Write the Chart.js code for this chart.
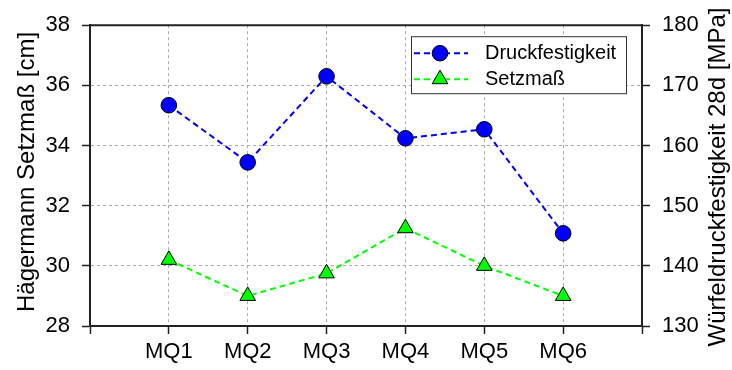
<!DOCTYPE html>
<html>
<head>
<meta charset="utf-8">
<script src="https://cdn.jsdelivr.net/npm/chart.js@4.4.0/dist/chart.umd.min.js"></script>
<style>
  html, body { margin: 0; padding: 0; background: #fff; }
  #wrap { width: 732px; height: 370px; position: relative; }
</style>
</head>
<body>
<div id="wrap"><canvas id="chart"></canvas></div>
<script>
const categories = ["MQ1", "MQ2", "MQ3", "MQ4", "MQ5", "MQ6"];
// Würfeldruckfestigkeit 28d [MPa] (right axis)
const druckfestigkeit = [166.7, 157.2, 171.5, 161.2, 162.7, 145.4];
// Hägermann Setzmaß [cm] (left axis)
const setzmass = [30.2, 29.0, 29.75, 31.25, 30.0, 29.0];
const leftTicks = [28, 30, 32, 34, 36, 38];
const rightTicks = [130, 140, 150, 160, 170, 180];

const FONT = "'Liberation Sans', Arial, Helvetica, sans-serif";
const GRID = "#a8a8a8";
const AXIS = "#222";

function points(values) {
  return values.map((v, i) => ({ x: i + 1, y: v }));
}

// box on top, rotated axis titles, legend with line + marker samples
const decorations = {
  id: "decorations",
  afterDraw(chart) {
    const { ctx, chartArea: a } = chart;
    ctx.save();
    ctx.strokeStyle = AXIS;
    ctx.lineWidth = 2;
    ctx.beginPath();
    ctx.moveTo(a.left - 1, a.top);
    ctx.lineTo(a.right + 1, a.top);
    ctx.stroke();

    ctx.fillStyle = "#000";
    ctx.font = "24px " + FONT;
    ctx.textAlign = "center";
    ctx.textBaseline = "middle";
    ctx.save();
    ctx.translate(27, 172);
    ctx.rotate(-Math.PI / 2);
    ctx.fillText("Hägermann Setzmaß [cm]", 0, 0);
    ctx.restore();
    ctx.save();
    ctx.translate(718, 177);
    ctx.rotate(-Math.PI / 2);
    ctx.fillText("Würfeldruckfestigkeit 28d [MPa]", 0, 0);
    ctx.restore();

    // legend
    const lx = a.right - 231, ly = a.top + 11, lw = 215, lh = 57;
    ctx.fillStyle = "#fff";
    ctx.fillRect(lx, ly, lw, lh);
    ctx.strokeStyle = "#333";
    ctx.lineWidth = 1;
    ctx.strokeRect(lx + 0.5, ly + 0.5, lw, lh);

    chart.data.datasets.forEach((ds, i) => {
      const y = ly + 17 + i * 26;
      ctx.strokeStyle = ds.borderColor;
      ctx.lineWidth = ds.borderWidth;
      ctx.setLineDash(ds.borderDash);
      ctx.beginPath();
      ctx.moveTo(lx + 3, y);
      ctx.lineTo(lx + 57, y);
      ctx.stroke();
      ctx.setLineDash([]);
      ctx.fillStyle = ds.pointBackgroundColor;
      ctx.strokeStyle = ds.pointBorderColor;
      ctx.lineWidth = ds.pointBorderWidth;
      Chart.helpers.drawPoint(ctx, {
        pointStyle: ds.pointStyle,
        radius: ds.pointRadius,
        rotation: 0,
        borderWidth: ds.pointBorderWidth
      }, lx + 29, y);
      ctx.fillStyle = "#000";
      ctx.font = "20px " + FONT;
      ctx.textAlign = "left";
      ctx.fillText(ds.label, lx + 74, y);
    });
    ctx.restore();
  }
};

new Chart(document.getElementById("chart"), {
  type: "line",
  data: {
    datasets: [
      {
        label: "Druckfestigkeit",
        data: points(druckfestigkeit),
        yAxisID: "y1",
        borderColor: "#0000ff",
        borderWidth: 2,
        borderDash: [6, 4],
        pointStyle: "circle",
        pointRadius: 7.8,
        pointBackgroundColor: "#0000ff",
        pointBorderColor: "#000",
        pointBorderWidth: 1
      },
      {
        label: "Setzmaß",
        data: points(setzmass),
        yAxisID: "y",
        borderColor: "#00ff00",
        borderWidth: 2,
        borderDash: [6, 4],
        pointStyle: "triangle",
        pointRadius: 9,
        pointBackgroundColor: "#00ff00",
        pointBorderColor: "#000",
        pointBorderWidth: 1
      }
    ]
  },
  options: {
    responsive: true,
    maintainAspectRatio: false,
    animation: false,
    layout: { padding: { top: 24, left: 0, right: 0, bottom: 0 } },
    plugins: { legend: { display: false }, tooltip: { enabled: false } },
    scales: {
      x: {
        type: "linear",
        min: 0,
        max: categories.length + 1,
        afterFit: s => { s.height = 44; },
        afterBuildTicks: s => { s.ticks = categories.map((c, i) => ({ value: i + 1 })).concat([{ value: 0 }, { value: categories.length + 1 }]); },
        ticks: {
          stepSize: 1,
          padding: 5,
          color: "#000",
          font: { family: FONT, size: 22 },
          maxRotation: 0,
          autoSkip: false,
          callback: v => categories[v - 1] || ""
        },
        grid: { color: GRID, lineWidth: 1, tickLength: 8, tickColor: AXIS, tickWidth: 1.5 },
        border: { color: AXIS, width: 2, dash: [3, 3] }
      },
      y: {
        position: "left",
        min: leftTicks[0],
        max: leftTicks[leftTicks.length - 1],
        afterFit: s => { s.width = 90; },
        afterBuildTicks: s => { s.ticks = leftTicks.map(v => ({ value: v })); },
        ticks: { padding: 12, color: "#000", font: { family: FONT, size: 22 } },
        grid: { color: GRID, lineWidth: 1, tickLength: 8, tickColor: AXIS, tickWidth: 1.5 },
        border: { color: AXIS, width: 2, dash: [3, 3] }
      },
      y1: {
        position: "right",
        min: rightTicks[0],
        max: rightTicks[rightTicks.length - 1],
        afterFit: s => { s.width = 90; },
        afterBuildTicks: s => { s.ticks = rightTicks.map(v => ({ value: v })); },
        ticks: { padding: 12, color: "#000", font: { family: FONT, size: 22 } },
        grid: { drawOnChartArea: false, tickLength: 8, tickColor: AXIS, tickWidth: 1.5 },
        border: { color: AXIS, width: 2 }
      }
    }
  },
  plugins: [decorations]
});
</script>
</body>
</html>
